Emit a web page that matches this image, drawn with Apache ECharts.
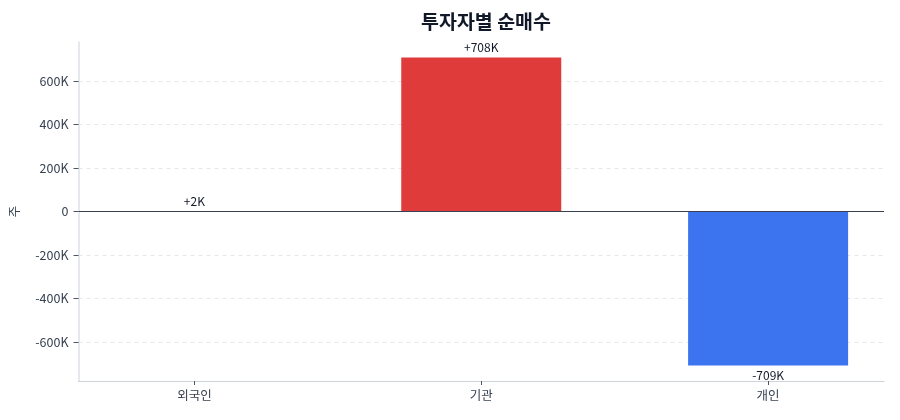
<!DOCTYPE html>
<html><head><meta charset="utf-8">
<script src="https://cdn.jsdelivr.net/npm/echarts@6/dist/echarts.min.js"></script>
<style>html,body{margin:0;padding:0;background:#fff}#c{width:900px;height:420px}</style>
</head><body><div id="c"></div>
<script>
const categories = ['외국인', '기관', '개인'];
const values = [2000, 708000, -709000];
const barColors = ['#e03b3b', '#e03b3b', '#3b74ee'];
const yTicks = [-600000, -400000, -200000, 0, 200000, 400000, 600000];
const yMin = -780000, yMax = 779000;
const xMin = -0.404, xMax = 2.404;

const fmtK = v => v === 0 ? '0' : (v / 1000) + 'K';
const fmtSigned = v => (v >= 0 ? '+' : '-') + Math.round(Math.abs(v) / 1000) + 'K';
const font = '"Noto Sans CJK KR", "Noto Sans", sans-serif';

const chart = echarts.init(document.getElementById('c'));
chart.setOption({
  animation: false,
  textStyle: { fontFamily: font },
  title: {
    text: '투자자별 순매수', left: 481, top: 7, textAlign: 'center',
    textStyle: { fontSize: 19.5, fontWeight: 'bold', color: '#111827', fontFamily: font }
  },
  grid: { left: 78, right: 16, top: 42, bottom: 39 },
  xAxis: {
    type: 'value', min: xMin, max: xMax,
    axisLine: { show: true, onZero: false, lineStyle: { color: '#cfd3dc', width: 1.2 } },
    axisTick: { show: true, customValues: [0, 1, 2], length: 4, lineStyle: { color: '#4b5563', width: 1 } },
    axisLabel: { customValues: [0, 1, 2], formatter: v => categories[Math.round(v)] || '', color: '#374151', fontSize: 12.5, margin: 8, fontFamily: font },
    splitLine: { show: false }
  },
  yAxis: {
    type: 'value', min: yMin, max: yMax,
    name: '주', nameLocation: 'middle', nameRotate: 90, nameGap: 58,
    nameTextStyle: { color: '#374151', fontSize: 12.5, fontFamily: font },
    axisLine: { show: true, onZero: false, lineStyle: { color: '#dde1e7', width: 1.5 } },
    axisTick: { show: true, customValues: yTicks, length: 5, lineStyle: { color: '#4b5563' } },
    axisLabel: { customValues: yTicks, formatter: fmtK, color: '#374151', fontSize: 12.5, margin: 10, fontFamily: font },
    splitLine: { show: true, customValues: yTicks, lineStyle: { color: '#e5e7eb', type: [4, 4], width: 1 } }
  },
  series: [{
    type: 'bar',
    barWidth: 160,
    data: values.map((v, i) => ({
      value: [i, v], itemStyle: { color: barColors[i] },
      label: { position: v < 0 ? 'bottom' : 'top' }
    })),
    label: {
      show: true, fontSize: 12, color: '#111827', fontFamily: font, distance: 4,
      formatter: p => fmtSigned(p.value[1])
    },
    markLine: {
      silent: true, symbol: 'none', label: { show: false },
      lineStyle: { color: '#374151', width: 1.2, type: 'solid' },
      data: [{ yAxis: 0 }]
    }
  }]
});
</script></body></html>
